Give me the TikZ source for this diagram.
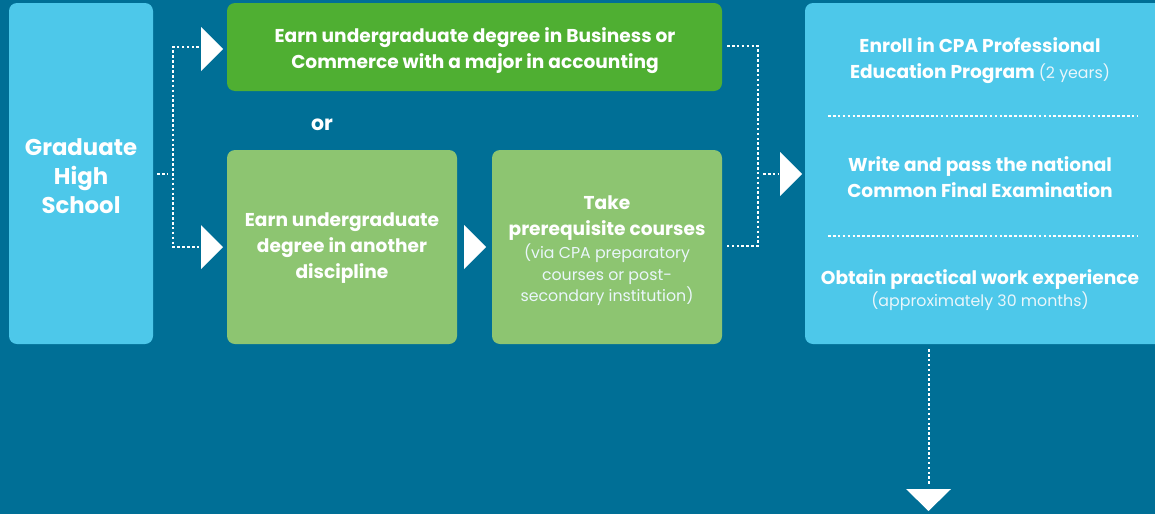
\documentclass[tikz,border=0pt]{standalone}
\usepackage{fontspec}
\setmainfont{Poppins}
\definecolor{bg}{HTML}{006F96}
\definecolor{lblue}{HTML}{4DC8EA}
\definecolor{dgreen}{HTML}{4FAF32}
\definecolor{lgreen}{HTML}{8DC571}
\definecolor{soft}{HTML}{EAF6FB}
\newcommand\smtxt{\mdseries\fontsize{15.8}{21.5}\selectfont\color{soft}}
\begin{document}
\begin{tikzpicture}[x=1pt,y=-1pt,
  box/.style={rounded corners=8pt},
  dots/.style={draw=white,line width=2.6pt,dash pattern=on 2.6pt off 2.3pt},
  tri/.style={fill=white},
  txt/.style={text=white,font=\bfseries\fontsize{18.6}{26}\selectfont,align=center,inner sep=0pt},
  sm/.style={text=soft,font=\fontsize{15.8}{21.5}\selectfont,align=center,inner sep=0pt}
]
\fill[bg] (0,0) rectangle (1155,514);
\useasboundingbox (0,0) rectangle (1155,514);
\begin{scope}
\clip (0,0) rectangle (1155,514);
\fill[lblue,box] (9,3) rectangle (153,344);
\fill[dgreen,box] (227,3) rectangle (722,91);
\fill[lgreen,box] (227,150) rectangle (457,344);
\fill[lgreen,box] (492,150) rectangle (722,344);
\fill[lblue,box] (805,3) rectangle (1170,344);
\end{scope}
% texts
\node[txt,font=\bfseries\fontsize{22.8}{29}\selectfont] (hs) at (81,176) {Graduate\\High\\School};
\node[txt] (bus) at (475,51) {Earn undergraduate degree in Business or\\Commerce with a major in accounting};
\node[txt,font=\bfseries\fontsize{20.5}{22}\selectfont] (or) at (322,125) {or};
\node[txt] (other) at (342,248.5) {Earn undergraduate\\degree in another\\discipline};
\node[txt] (pre) at (607,218.5) {Take\\prerequisite courses};
\node[sm] (preS) at (607,275) {(via CPA preparatory\\courses or post-\\secondary institution)};
\node[txt] (cpa) at (980,61) {Enroll in CPA Professional\\Education Program {\smtxt (2 years)}};
\node[txt] (cfe) at (980,177) {Write and pass the national\\Common Final Examination};
\node[txt] (pwe) at (980,280) {Obtain practical work experience};
\node[sm] (pweS) at (980,301.5) {(approximately 30 months)};
% separators in right box
\coordinate (s1a) at (828,116); \coordinate (s1b) at (1138,116);
\coordinate (s2a) at (828,236); \coordinate (s2b) at (1138,236);
\draw[dots] (s1a) -- (s1b);
\draw[dots] (s2a) -- (s2b);
% left connectors
\coordinate (hsE) at (157,174);
\coordinate (stubE) at (168,174);
\coordinate (l1) at (173,47);
\coordinate (l2) at (173,247);
\coordinate (a1) at (199,47);
\coordinate (a2) at (199,247);
\draw[dots] (hsE) -- (stubE);
\draw[dots] (a1) -- (l1) -- (l2) -- (a2);
\fill[tri] (201,27) -- (223,49) -- (201,71) -- cycle;
\fill[tri] (201,225) -- (223,247) -- (201,269) -- cycle;
% middle arrow
\fill[tri] (464,225) -- (486,247) -- (464,269) -- cycle;
% right connectors
\coordinate (r1) at (727,46);
\coordinate (r2) at (727,246);
\coordinate (v1) at (758,46);
\coordinate (v2) at (758,246);
\coordinate (rs1) at (763,174);
\coordinate (rs2) at (778,174);
\draw[dots] (r1) -- (v1) -- (v2) -- (r2);
\draw[dots] (rs1) -- (rs2);
\fill[tri] (780,152) -- (802,174) -- (780,196) -- cycle;
% bottom arrow
\coordinate (b1) at (929,349);
\coordinate (b2) at (929,486);
\draw[dots] (b1) -- (b2);
\fill[tri] (906,489) -- (951,489) -- (928.5,511) -- cycle;
\end{tikzpicture}
\end{document}
